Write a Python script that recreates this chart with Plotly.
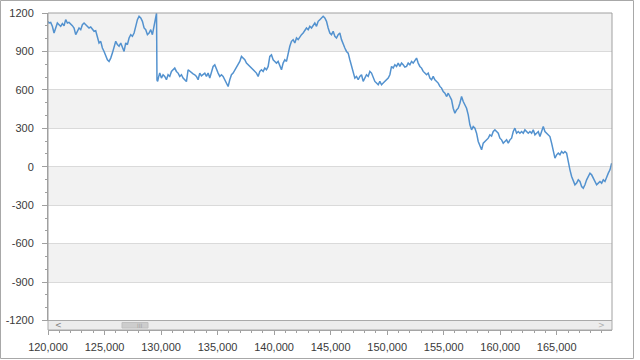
import plotly.graph_objects as go

# ---- data ----
x_vals = [
    120000, 120091, 120239, 120386, 120534, 120681, 120829, 120976, 121124, 121271,
    121419, 121566, 121714, 121861, 122009, 122156, 122304, 122451, 122599, 122746,
    122894, 123041, 123189, 123336, 123484, 123631, 123779, 123926, 124074, 124221,
    124369, 124516, 124664, 124811, 124959, 125106, 125254, 125401, 125549, 125696,
    125844, 125991, 126139, 126286, 126434, 126581, 126729, 126876, 127024, 127171,
    127319, 127466, 127614, 127761, 127909, 128056, 128204, 128351, 128499, 128646,
    128794, 128941, 129089, 129236, 129384, 129531, 129600, 129640, 129700, 129780,
    129885, 130033, 130180, 130328, 130475, 130623, 130770, 130918, 131065, 131213,
    131360, 131508, 131655, 131803, 131950, 132098, 132245, 132393, 132540, 132688,
    132835, 132983, 133130, 133278, 133425, 133573, 133720, 133868, 134015, 134163,
    134310, 134458, 134605, 134753, 134900, 135048, 135195, 135343, 135490, 135638,
    135785, 135933, 136080, 136228, 136375, 136523, 136670, 136818, 136965, 137113,
    137260, 137408, 137555, 137703, 137850, 137998, 138145, 138293, 138440, 138588,
    138735, 138883, 139030, 139178, 139325, 139473, 139620, 139768, 139915, 140063,
    140210, 140358, 140505, 140653,
    140800, 140948, 141095, 141243, 141390, 141538, 141685, 141833, 141980, 142128,
    142275, 142423, 142570, 142718, 142865, 143013, 143160, 143308, 143455, 143603,
    143750, 143898, 144045, 144193, 144340, 144488, 144635, 144783, 144930, 145078,
    145225, 145373, 145520, 145668, 145815, 145963, 146110, 146258, 146405, 146553,
    146700, 146848, 146995, 147143, 147290, 147438, 147585, 147733, 147880, 148028,
    148175, 148323, 148470, 148618, 148765, 148913, 149060, 149208, 149355, 149503,
    149650, 149798, 149945, 150093, 150240, 150388, 150535, 150683, 150830, 150978,
    151125, 151273, 151420, 151568, 151715, 151863, 152010, 152158, 152305, 152453,
    152600, 152748, 152895, 153043, 153190, 153338, 153485, 153633, 153780, 153928,
    154075, 154223, 154370, 154518, 154665, 154813, 154960, 155108, 155255, 155403,
    155550, 155698, 155845, 155993, 156140, 156288, 156435, 156583, 156730, 156878,
    157025, 157173, 157320, 157468, 157615, 157763, 157910, 158058, 158205, 158353,
    158500, 158648, 158795, 158943, 159090, 159238, 159385, 159533, 159680, 159828,
    159975, 160123, 160270, 160418, 160565, 160713, 160860, 161008, 161155, 161303,
    161450, 161598, 161745, 161893, 162040, 162188, 162335, 162483, 162630, 162778,
    162925, 163073, 163220, 163368, 163515, 163663, 163810, 163958, 164105, 164253,
    164400, 164548, 164695, 164843, 164990, 165138, 165285, 165433, 165580, 165728,
    165875, 166023, 166170, 166318, 166465, 166613, 166760, 166908, 167055, 167203,
    167350, 167498, 167645, 167793, 167940, 168088, 168235, 168383, 168530, 168678,
    168825, 168973, 169120, 169268, 169415, 169563, 169710, 169858,
]
y_vals = [
    1135, 1122, 1127, 1096, 1044, 1083, 1122, 1109, 1096, 1117,
    1101, 1148, 1122, 1127, 1109, 1101, 1083, 1031, 1057, 1083,
    1070, 1109, 1122, 1109, 1096, 1083, 1091, 1070, 1057, 1062,
    1018, 966, 979, 927, 900, 861, 835, 822, 848, 887,
    927, 979, 953, 940, 966, 927, 900, 966, 953, 1005,
    1031, 1018, 1044, 1096, 1148, 1174, 1161, 1135, 1083, 1070,
    1031, 1044, 1070, 1031, 1096, 1187, 1198, 676, 666, 700,
    731, 692, 718, 705, 679, 718, 705, 744, 757, 770,
    744, 731, 705, 718, 692, 679, 665, 757, 744, 731,
    725, 718, 705, 679, 731, 710, 718, 731, 705, 731,
    692, 744, 783, 796, 757, 731, 705, 718, 705, 679,
    653, 626, 679, 718, 731, 757, 770, 796, 822, 861,
    848, 835, 809, 796, 783, 770, 757, 744, 731, 705,
    744, 757, 744, 770, 757, 783, 861, 874, 835, 822,
    809, 822, 783, 757,
    809, 835, 822, 887, 940, 979, 992, 966, 1005, 992,
    1018, 1031, 1044, 1070, 1083, 1070, 1096, 1083, 1109, 1122,
    1096, 1135, 1148, 1161, 1174, 1161, 1135, 1083, 1044, 1031,
    1057, 1018, 1005, 1031, 1044, 992, 966, 927, 900, 887,
    835, 783, 731, 692, 705, 679, 705, 718, 666, 692,
    718, 705, 744, 731, 692, 666, 653, 640, 666, 640,
    653, 666, 679, 692, 718, 783, 770, 796, 783, 809,
    783, 809, 796, 778, 783, 809, 796, 822, 809, 835,
    848, 809, 783, 770, 744, 731, 718, 731, 692, 679,
    705, 679, 666, 653, 627, 614, 587, 574, 548, 574,
    548, 522, 457, 418, 444, 457, 496, 548, 509, 483,
    457, 405, 327, 288, 314, 301, 262, 197, 171, 132,
    184, 197, 210, 223, 249, 240, 275, 288, 275, 262,
    223, 210, 184, 197, 210, 184, 210, 223, 275, 301,
    262, 275, 262, 275, 262, 288, 275, 262, 275, 262,
    288, 249, 262, 275, 236, 275, 314, 275, 262, 249,
    236, 184, 119, 67, 93, 106, 93, 119, 106, 119,
    106, 28, -24, -76, -115, -141, -128, -102, -115, -154,
    -167, -141, -102, -76, -50, -63, -89, -115, -141, -128,
    -115, -128, -102, -115, -76, -50, -24, 28,
]

x_ticks = [120000, 125000, 130000, 135000, 140000, 145000, 150000, 155000, 160000, 165000]
x_tick_labels = ["120,000", "125,000", "130,000", "135,000", "140,000",
                 "145,000", "150,000", "155,000", "160,000", "165,000"]
y_ticks = [-1200, -900, -600, -300, 0, 300, 600, 900, 1200]
y_tick_labels = ["-1200", "-900", "-600", "-300", "0", "300", "600", "900", "1200"]
x_range = [120000, 169890]
y_range = [-1200, 1200]

# ---- geometry ----
W, H = 640, 360
ML, MR, MT, MB = 48, 28, 13, 30
PW, PH = W - ML - MR, H - MT - MB


def fx(px):
    return (px - ML) / PW


def fy(py):
    return (H - MB - py) / PH


y_dom0 = fy(320.5)
AX = "#a0a0a0"
FONT = dict(family="Liberation Sans, Arial, sans-serif", size=11, color="#3a3a3a")

fig = go.Figure(go.Scatter(
    x=x_vals, y=y_vals, mode="lines",
    line=dict(color="#5392cf", width=1.5), hoverinfo="skip", showlegend=False,
))

shapes = []
# alternating stripes
for i in range(len(y_ticks) - 1):
    if i % 2 == 1:
        shapes.append(dict(type="rect", xref="paper", yref="y", x0=0, x1=1,
                           y0=y_ticks[i], y1=y_ticks[i + 1],
                           fillcolor="#f2f2f2", line=dict(width=0), layer="below"))
# plot frame
shapes.append(dict(type="rect", xref="paper", yref="paper", x0=0, x1=1, y0=y_dom0, y1=1,
                   line=dict(color=AX, width=1), fillcolor="rgba(0,0,0,0)", layer="above"))
# scrollbar
shapes.append(dict(type="rect", xref="paper", yref="paper", x0=0, x1=1, y0=0, y1=y_dom0,
                   fillcolor="#ececec", line=dict(color="#a9a9a9", width=1), layer="above"))
shapes.append(dict(type="rect", xref="paper", yref="paper", x0=fx(122), x1=fx(148),
                   y0=fy(328), y1=fy(322.5),
                   fillcolor="#cdcdcd", line=dict(color="#c0c0c0", width=1), layer="above"))
# outer border
shapes.append(dict(type="rect", xref="paper", yref="paper", x0=fx(0.5), x1=fx(633.5),
                   y0=fy(358.5), y1=fy(0.5),
                   line=dict(color="#a8a8a8", width=1), fillcolor="rgba(0,0,0,0)", layer="above"))

annotations = [
    dict(text="III", xref="paper", yref="paper", x=fx(135), y=fy(325.3), showarrow=False,
         yanchor="middle", font=dict(family="DejaVu Sans", size=6, color="#a5a5a5")),
    dict(text="<", xref="paper", yref="paper", x=fx(53), y=fy(325.3), showarrow=False,
         yanchor="middle", font=dict(family="DejaVu Sans", size=8, color="#808080")),
    dict(text=">", xref="paper", yref="paper", x=fx(607), y=fy(325.3), showarrow=False,
         yanchor="middle", font=dict(family="DejaVu Sans", size=8, color="#b0b0b0")),
]

fig.update_layout(
    width=W, height=H,
    margin=dict(l=ML, r=MR, t=MT, b=MB, autoexpand=False),
    paper_bgcolor="white", plot_bgcolor="white",
    shapes=shapes, annotations=annotations,
    font=FONT,
    xaxis=dict(
        range=x_range, anchor="free", position=0, automargin=False,
        showline=True, linecolor=AX, linewidth=1,
        ticks="outside", ticklen=4, tickcolor=AX,
        tickvals=x_ticks, ticktext=x_tick_labels, tickfont=FONT,
        ticklabelstandoff=3,
        minor=dict(dtick=1000, tick0=0, ticks="outside", ticklen=2, tickcolor=AX, showgrid=False),
        showgrid=False, zeroline=False,
    ),
    yaxis=dict(
        range=y_range, domain=[y_dom0, 1], automargin=False,
        showline=True, linecolor=AX, linewidth=1,
        ticks="outside", ticklen=5, tickcolor=AX,
        tickvals=y_ticks, ticktext=y_tick_labels, tickfont=FONT,
        ticklabelstandoff=6,
        minor=dict(dtick=100, tick0=0, ticks="outside", ticklen=2, tickcolor=AX, showgrid=False),
        showgrid=True, gridcolor="#dadada", gridwidth=1, zeroline=False,
    ),
)

fig.write_html(
    "out.html",
    config={"displayModeBar": False, "staticPlot": True},
    post_script="document.body.style.margin='0';document.body.style.overflow='hidden';",
)
